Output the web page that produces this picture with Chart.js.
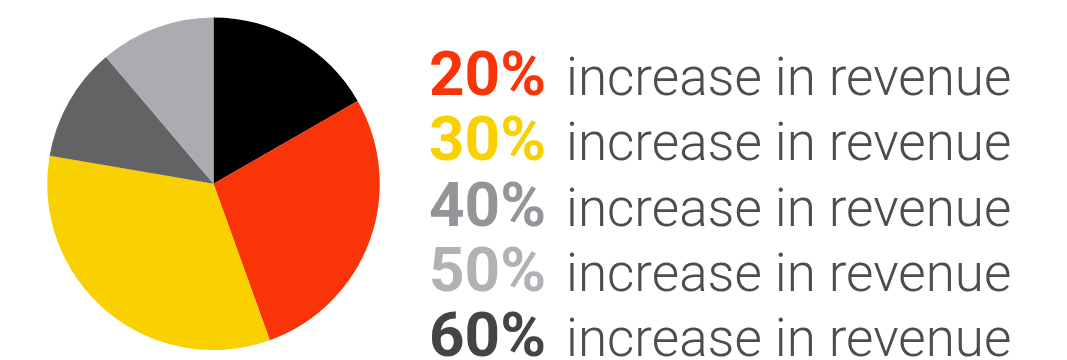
<!DOCTYPE html>
<html>
<head>
<meta charset="utf-8">
<script src="https://cdn.jsdelivr.net/npm/chart.js@4"></script>
<style>
	html, body {
		margin: 0;
		padding: 0;
		background: #ffffff;
	}
	#wrap {
		position: relative;
		width: 1067px;
		height: 360px;
	}
</style>
</head>
<body>
<div id="wrap"><canvas id="chart"></canvas></div>
<script>
const sliceLabels = ["Black", "Red", "Yellow", "Dark gray", "Light gray"];
const sliceValues = [16.7, 27.8, 33.2, 11.1, 11.2];
const sliceColors = ["#000000", "#f93409", "#f9d000", "#636365", "#abacaf"];

const legendFigures = ["20%", "30%", "40%", "50%", "60%"];
const legendColors = ["#f93409", "#f9d000", "#939598", "#b1b2b5", "#444446"];
const legendText = "increase in revenue";

// draws the stacked "NN% increase in revenue" lines to the right of the pie
const revenueLines = {
	id: "revenueLines",
	afterDraw(chart) {
		const ctx = chart.ctx;
		const x = 429;
		const textX = 566;
		const firstBaseline = 95;
		const lineStep = 65.3;

		ctx.save();
		ctx.textBaseline = "alphabetic";
		ctx.textAlign = "left";

		legendFigures.forEach((fig, i) => {
			const y = firstBaseline + i * lineStep;

			ctx.font = "bold 62px Roboto";
			ctx.fillStyle = legendColors[i];
			ctx.fillText(fig, x, y);

			ctx.font = "300 53px Roboto";
			ctx.fillStyle = "#4d4d4f";
			ctx.fillText(legendText, textX, y);
		});

		ctx.restore();
	},
};

new Chart(document.getElementById("chart"), {
	type: "pie",
	data: {
		labels: sliceLabels,
		datasets: [
			{
				data: sliceValues,
				backgroundColor: sliceColors,
				borderWidth: 0,
			},
		],
	},
	options: {
		responsive: true,
		maintainAspectRatio: false,
		animation: false,
		layout: {
			padding: { left: 47, right: 687, top: 17.5, bottom: 10 },
		},
		plugins: {
			legend: { display: false },
			tooltip: { enabled: false },
		},
	},
	plugins: [revenueLines],
});
</script>
</body>
</html>
